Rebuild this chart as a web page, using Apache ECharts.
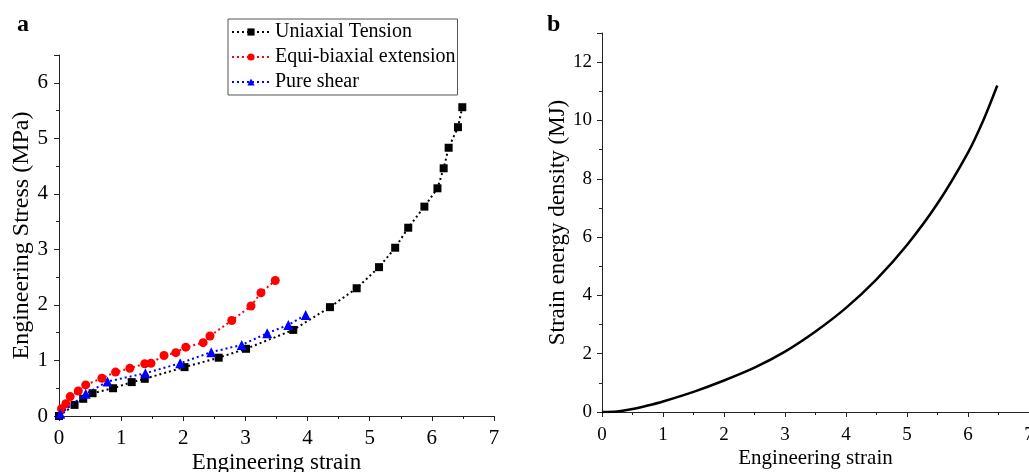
<!DOCTYPE html>
<html><head><meta charset="utf-8">
<script src="https://cdn.jsdelivr.net/npm/echarts@6/dist/echarts.min.js"></script>
<style>html,body{margin:0;padding:0;background:#fff}#c{width:1029px;height:472px}</style>
</head><body><div id="c"></div>
<script>
// Panel a: Uniaxial Tension
const uniStrain = [0, 0.25, 0.39, 0.54, 0.87, 1.17, 1.38, 2.02, 2.57, 3.01, 3.77, 4.36, 4.79, 5.15, 5.41, 5.62, 5.88, 6.09, 6.19, 6.27, 6.42, 6.49];
const uniStress = [0, 0.20, 0.31, 0.41, 0.50, 0.61, 0.67, 0.88, 1.05, 1.21, 1.55, 1.96, 2.30, 2.68, 3.03, 3.39, 3.77, 4.10, 4.46, 4.83, 5.20, 5.56];
// Panel a: Equi-biaxial extension
const biStrain = [0.04, 0.11, 0.18, 0.31, 0.43, 0.69, 0.91, 1.14, 1.38, 1.48, 1.69, 1.88, 2.04, 2.32, 2.43, 2.78, 3.09, 3.25, 3.48];
const biStress = [0.13, 0.22, 0.35, 0.45, 0.56, 0.68, 0.79, 0.86, 0.94, 0.95, 1.09, 1.14, 1.24, 1.32, 1.44, 1.72, 1.98, 2.22, 2.44];
// Panel a: Pure shear
const psStrain = [0.02, 0.43, 0.78, 1.39, 1.95, 2.45, 2.94, 3.35, 3.69, 3.97];
const psStress = [0.04, 0.40, 0.62, 0.77, 0.95, 1.15, 1.28, 1.49, 1.64, 1.82];
// Panel b: strain energy density
const sedStrain = [0, 0.25, 0.5, 0.75, 1, 1.5, 2, 2.5, 3, 3.5, 4, 4.5, 5, 5.5, 6, 6.25, 6.48];
const sedValue  = [0, 0.02, 0.10, 0.22, 0.36, 0.69, 1.08, 1.52, 2.07, 2.76, 3.57, 4.55, 5.73, 7.15, 8.90, 10.0, 11.2];

const seriesNames = ['Uniaxial Tension', 'Equi-biaxial extension', 'Pure shear'];
const panelLabels = ['a', 'b'];
const xTitle = 'Engineering strain';
const yTitleA = 'Engineering Stress (MPa)';
const yTitleB = 'Strain energy density (MJ)';

const FONT = "'Liberation Serif', 'DejaVu Serif', serif";
const AX = '#222';
const zip = (a, b) => a.map((v, i) => [v, b[i]]);

function axis(extra) {
  return Object.assign({
    type: 'value',
    nameLocation: 'middle',
    nameMoveOverlap: false,
    nameTextStyle: { fontFamily: FONT, color: '#000', fontSize: 23 },
    axisLine: { show: true, onZero: false, lineStyle: { color: AX, width: 1 } },
    axisTick: { show: true, inside: false, length: 5, lineStyle: { color: AX } },
    minorTick: { show: true, splitNumber: 2, length: 3, lineStyle: { color: AX } },
    splitLine: { show: false },
    minorSplitLine: { show: false },
    axisLabel: { fontFamily: FONT, color: '#000', fontSize: 21 }
  }, extra);
}

const chart = echarts.init(document.getElementById('c'), null, { renderer: 'canvas' });
const dotted = (c) => ({ color: c, width: 2, type: [2, 3] });

chart.setOption({
  backgroundColor: '#fff',
  animation: false,
  title: [
    { text: panelLabels[0], left: 12, top: 8, textStyle: { fontFamily: FONT, fontWeight: 'bold', fontSize: 24, color: '#000' } },
    { text: panelLabels[1], left: 542, top: 8, textStyle: { fontFamily: FONT, fontWeight: 'bold', fontSize: 24, color: '#000' } }
  ],
  legend: {
    data: seriesNames,
    orient: 'vertical',
    left: 228, top: 19,
    itemWidth: 38, itemHeight: 9,
    itemGap: 5,
    padding: [3, 2, 3, 3],
    borderColor: '#555', borderWidth: 1,
    backgroundColor: '#fff',
    textStyle: { fontFamily: FONT, fontSize: 20, color: '#000', lineHeight: 20 }
  },
  grid: [
    { left: 59, top: 55, width: 435, height: 361, outerBoundsMode: 'none', containLabel: false },
    { left: 602, top: 33, width: 427, height: 379, outerBoundsMode: 'none', containLabel: false }
  ],
  xAxis: [
    axis({ gridIndex: 0, min: 0, max: 7, interval: 1, name: xTitle, nameGap: 35,
      axisLabel: { fontFamily: FONT, color: '#000', fontSize: 21, margin: 12 } }),
    axis({ gridIndex: 1, min: 0, max: 7, interval: 1, name: xTitle, nameGap: 36,
      nameTextStyle: { fontFamily: FONT, color: '#000', fontSize: 21 },
      axisLabel: { fontFamily: FONT, color: '#000', fontSize: 19, margin: 14 } })
  ],
  yAxis: [
    axis({ gridIndex: 0, min: 0, max: 6.5, interval: 1, name: yTitleA, nameGap: 25,
      nameTextStyle: { fontFamily: FONT, color: '#000', fontSize: 24 },
      axisLabel: { fontFamily: FONT, color: '#000', fontSize: 21, margin: 11,
        formatter: v => (Number.isInteger(v) ? String(v) : '') } }),
    axis({ gridIndex: 1, min: 0, max: 13, interval: 2, name: yTitleB, nameGap: 33,
      nameTextStyle: { fontFamily: FONT, color: '#000', fontSize: 23 },
      axisLabel: { fontFamily: FONT, color: '#000', fontSize: 19, margin: 10,
        formatter: v => (v % 2 === 0 ? String(v) : '') } })
  ],
  series: [
    { name: seriesNames[0], type: 'line', xAxisIndex: 0, yAxisIndex: 0, data: zip(uniStrain, uniStress),
      symbol: 'rect', symbolSize: 8, itemStyle: { color: '#000' }, lineStyle: dotted('#000'), z: 2 },
    { name: seriesNames[1], type: 'line', xAxisIndex: 0, yAxisIndex: 0, data: zip(biStrain, biStress),
      symbol: 'circle', symbolSize: 9, itemStyle: { color: '#ff0000' }, lineStyle: dotted('#ff0000'), z: 3 },
    { name: seriesNames[2], type: 'line', xAxisIndex: 0, yAxisIndex: 0, data: zip(psStrain, psStress),
      symbol: 'triangle', symbolSize: 10, itemStyle: { color: '#0000ff' }, lineStyle: dotted('#0000ff'), z: 4 },
    { name: 'Strain energy density', type: 'line', xAxisIndex: 1, yAxisIndex: 1, data: zip(sedStrain, sedValue),
      smooth: 0.3, showSymbol: false, symbol: 'none', lineStyle: { color: '#000', width: 2.5 } }
  ]
});
</script>
</body></html>
